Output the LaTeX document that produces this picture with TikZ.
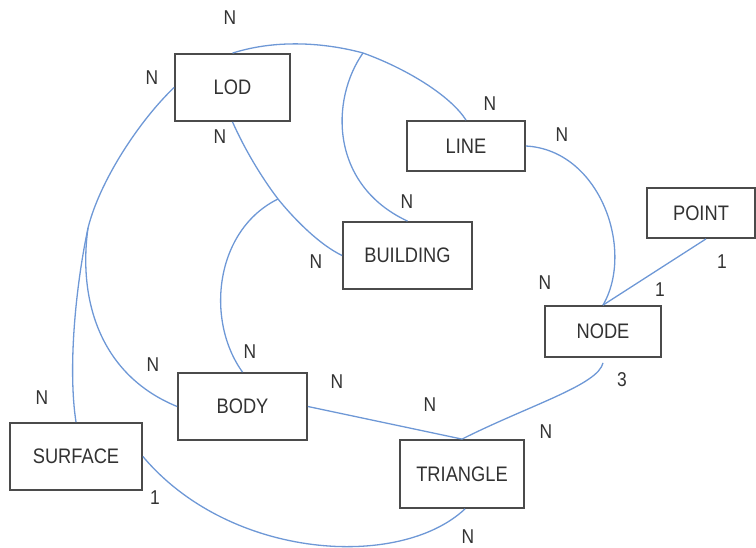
\documentclass[tikz,border=0pt]{standalone}
\usepackage{fontspec}
\setmainfont{Liberation Sans}[FakeStretch=0.87]
\definecolor{relblue}{RGB}{110,152,214}
\definecolor{boxgray}{RGB}{75,75,75}
\definecolor{textgray}{RGB}{50,50,50}

\begin{document}
\begin{tikzpicture}[x=1pt, y=-1pt,
        box/.style={draw=boxgray, line width=1.8pt, fill=white, inner sep=0pt,
                    font=\fontsize{21}{23}\selectfont, text=textgray},
        link/.style={draw=relblue, line width=1.3pt},
        card/.style={inner sep=0pt, font=\fontsize{20}{22}\selectfont, text=textgray}]
        \useasboundingbox (0,0) rectangle (756,548);
        \node[box, minimum width=115pt, minimum height=67pt] (lod) at (232.5,87.5) {LOD};
        \node[box, minimum width=118pt, minimum height=50pt] (line) at (466,146) {LINE};
        \node[box, minimum width=108pt, minimum height=50pt] (point) at (701,213) {POINT};
        \node[box, minimum width=129pt, minimum height=67pt] (building) at (407.5,255.5) {BUILDING};
        \node[box, minimum width=116pt, minimum height=51pt] (node) at (603,331.5) {NODE};
        \node[box, minimum width=129pt, minimum height=67pt] (body) at (242.5,406.5) {BODY};
        \node[box, minimum width=132pt, minimum height=67pt] (surface) at (76,456.5) {SURFACE};
        \node[box, minimum width=124pt, minimum height=68pt] (triangle) at (462,474) {TRIANGLE};
        \coordinate (lodline) at (363,53);
        \coordinate (lodbody) at (278,199);
        \coordinate (lodsurf) at (88,228);
        \draw[link] (lod.north) .. controls (280,38) and (330,44) .. (lodline)
            .. controls (405,68) and (450,95) .. (line.north);
        \draw[link] (lodline) .. controls (330,100) and (330,185) .. (building.north);
        \draw[link] (lod.south) .. controls (245,150) and (262,178) .. (lodbody)
            .. controls (295,220) and (320,245) .. (building.west);
        \draw[link] (lodbody) .. controls (215,230) and (205,320) .. (body.north);
        \draw[link] (lod.west) .. controls (140,120) and (100,180) .. (lodsurf)
            .. controls (75,290) and (68,370) .. (surface.north);
        \draw[link] (lodsurf) .. controls (78,300) and (100,375) .. (body.west);
        \draw[link] (line.east) .. controls (600,150) and (635,250) .. (node.north);
        \draw[link] ([xshift=5pt]point.south) -- (node.north);
        \draw[link] ([yshift=-5pt]node.south) .. controls (598,385) and (530,405) .. (triangle.north);
        \draw[link] (body.east) -- (triangle.north);
        \draw[link] (surface.east) .. controls (230,560) and (400,570) .. ([xshift=3pt]triangle.south);
        \foreach \x/\y/\t [count=\i] in {230/18/N, 152/78/N, 220/137/N, 490/104/N,
                562/135/N, 407/202/N, 316/262/N, 545/283/N, 660/290/1, 722/262/1,
                250/352/N, 153/365/N, 337/382/N, 42/398/N, 430/405/N, 622/380/3,
                546/432/N, 155/498/1, 468/537/N}
            \node[card] (card\i) at (\x,\y) {\t};
\end{tikzpicture}
\end{document}
